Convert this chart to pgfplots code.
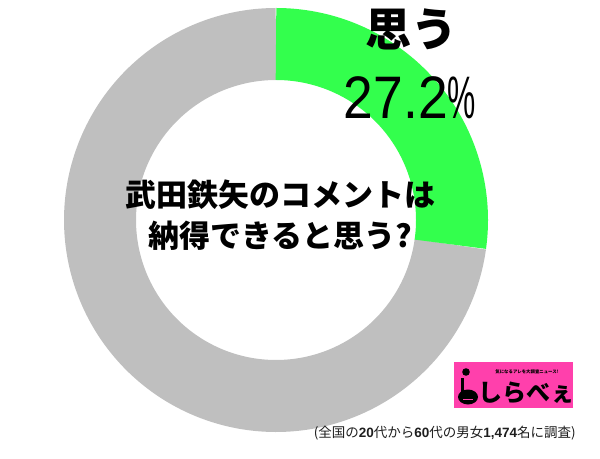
\documentclass[border=0pt]{standalone}
\usepackage{pgfplots}
\pgfplotsset{compat=1.18}
\usepackage{fontspec}
\setmainfont{Liberation Sans}
\newfontfamily\cjk{Noto Sans CJK JP}
\newfontfamily\lib{Liberation Sans}
\definecolor{sgreen}{RGB}{51,255,77}
\definecolor{sgray}{RGB}{191,191,191}
\definecolor{lpink}{RGB}{255,64,172}
\definecolor{ftext}{RGB}{30,30,30}
\begin{document}
\begin{tikzpicture}
\begin{axis}[width=600bp,height=458bp,scale only axis,
  xmin=0,xmax=600,ymin=0,ymax=458,hide axis,clip=false]
\path (axis cs:0,0) rectangle (axis cs:600,458);
% donut: values in percent (思う 27.2, その他 72.8)
\addplot[draw=sgray, line width=72bp, domain=27.2:100, samples=240, no marks]
  ({276+176*sin(3.6*x)},{238+176*cos(3.6*x)});
\addplot[draw=sgreen, line width=72bp, domain=0:27.2, samples=100, no marks]
  ({276+176*sin(3.6*x)},{238+176*cos(3.6*x)});
% label
\node[font=\cjk\bfseries\fontsize{46bp}{46bp}\selectfont] at (axis cs:411,429) {思う};
\node[font=\lib\fontsize{60bp}{60bp}\selectfont] at (axis cs:410,360)
  {\scalebox{0.89}[1]{27.2}\scalebox{0.53}[1]{\%}};
% centre question
\node[font=\cjk\bfseries\fontsize{31bp}{31bp}\selectfont] at (axis cs:280,263) {武田鉄矢のコメントは};
\node[font=\cjk\bfseries\fontsize{31bp}{31bp}\selectfont] at (axis cs:280,222) {納得できると思う?};
% logo
\fill[lpink] (axis cs:454,50) rectangle (axis cs:573,96);
\fill[black] (axis cs:466,86) circle[radius=3.8bp];
\draw[black, line width=3.5bp] (axis cs:462.5,80) -- (axis cs:462.5,63);
\fill[black] (axis cs:468,61) ellipse[x radius=10bp, y radius=7.5bp];
\draw[lpink, line width=0.8bp] (axis cs:463,59) -- (axis cs:473,59);
\node[font=\cjk\bfseries\fontsize{4.4bp}{4.4bp}\selectfont] at (axis cs:527,86) {気になるアレを大調査ニュース!};
\node[font=\cjk\bfseries\fontsize{24bp}{24bp}\selectfont] at (axis cs:526,65) {しらべぇ};
% footer
\node[anchor=east, text=ftext, font=\cjk\fontsize{13.5bp}{13.5bp}\selectfont, inner sep=0pt] at (axis cs:576,25)
  {(全国の{\lib\bfseries 20}代から{\lib\bfseries 60}代の男女{\lib\bfseries 1,474}名に調査)};
\end{axis}
\end{tikzpicture}
\end{document}
